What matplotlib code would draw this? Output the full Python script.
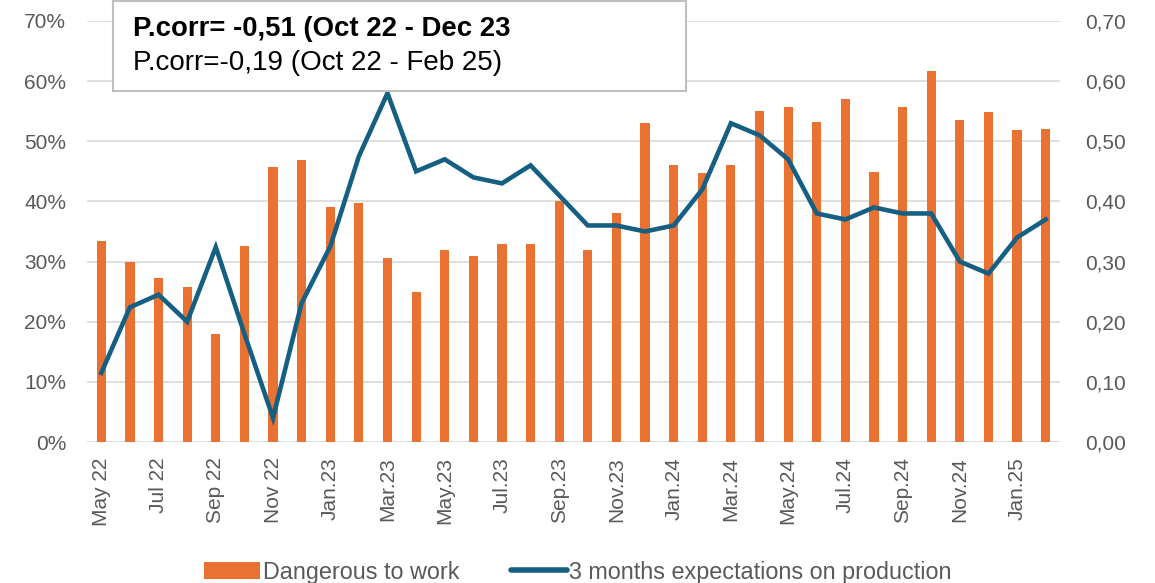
import matplotlib
matplotlib.use("Agg")
import matplotlib.pyplot as plt
from matplotlib.ticker import FuncFormatter, MultipleLocator
from matplotlib.lines import Line2D
from matplotlib.patches import Patch
import numpy as np

months = ["May 22", "Jun 22", "Jul 22", "Aug 22", "Sep 22", "Oct 22", "Nov 22", "Dec 22",
          "Jan.23", "Feb.23", "Mar.23", "Apr.23", "May.23", "Jun.23", "Jul.23", "Aug.23",
          "Sep.23", "Oct.23", "Nov.23", "Dec.23", "Jan.24", "Feb.24", "Mar.24", "Apr.24",
          "May.24", "Jun.24", "Jul.24", "Aug.24", "Sep.24", "Oct.24", "Nov.24", "Dec.24",
          "Jan.25", "Feb.25"]
dangerous = [33.5, 30, 27.3, 25.8, 18, 32.6, 45.8, 46.9, 39.0, 39.8, 30.6, 25, 32, 31,
             33, 33, 40, 32, 38, 53, 46, 44.8, 46, 55, 55.7, 53.2, 57.1, 44.9, 55.7, 61.7,
             53.6, 54.9, 51.9, 52.1]
expectations = [0.115, 0.224, 0.245, 0.20, 0.324, 0.18, 0.04, 0.231, 0.325, 0.475, 0.58,
                0.45, 0.47, 0.44, 0.43, 0.46, 0.41, 0.36, 0.36, 0.35, 0.36, 0.42, 0.53,
                0.51, 0.47, 0.38, 0.37, 0.39, 0.38, 0.38, 0.30, 0.28, 0.34, 0.37]
bar_label = "Dangerous to work"
line_label = "3 months expectations on production"
note_bold = "P.corr= -0,51 (Oct 22 - Dec 23"
note_regular = "P.corr=-0,19 (Oct 22 - Feb 25)"

ORANGE = "#E97132"
BLUE = "#156082"
GRID = "#D9D9D9"
TXT = "#595959"

plt.rcParams['font.family'] = ['Liberation Sans', 'DejaVu Sans']

W, H = 1155, 583
fig = plt.figure(figsize=(W / 100, H / 100), dpi=100)
ax = fig.add_axes([87 / W, 1 - 442 / H, (1060 - 87) / W, (442 - 21) / H])
ax2 = ax.twinx()

x = np.arange(len(months))
ax.bar(x, dangerous, width=0.32, color=ORANGE, zorder=2)
ax.set_ylim(0, 70)
ax.set_xlim(-0.5, len(months) - 0.5)
ax.yaxis.set_major_locator(MultipleLocator(10))
ax.yaxis.set_major_formatter(FuncFormatter(lambda v, p: f"{v:.0f}%"))
ax.grid(axis='y', color=GRID, lw=1.2, zorder=0)
ax.set_axisbelow(True)

ax2.plot(x, expectations, color=BLUE, lw=3.3, zorder=3, solid_joinstyle='miter')
ax2.set_ylim(0, 0.70)
ax2.yaxis.set_major_locator(MultipleLocator(0.10))
ax2.yaxis.set_major_formatter(FuncFormatter(lambda v, p: f"{v:.2f}".replace('.', ',')))

for a in (ax, ax2):
    for s in a.spines.values():
        s.set_visible(False)
    a.tick_params(length=0, colors=TXT, labelsize=15)
ax.tick_params(axis='y', pad=15)
ax2.tick_params(axis='y', pad=18)

ax.set_xticks(x[::2])
ax.set_xticklabels(months[::2], rotation=90, fontsize=15, color=TXT)
ax.tick_params(axis='x', pad=11)

# annotation box
box_ax = fig.add_axes([113 / W, 1 - 91 / H, (686 - 113) / W, 90 / H])
box_ax.set_xticks([]); box_ax.set_yticks([])
box_ax.set_facecolor('white')
for s in box_ax.spines.values():
    s.set_color('#BFBFBF'); s.set_linewidth(1.5)
box_ax.text(20 / 573, 0.69, note_bold, fontsize=19.8, fontweight='bold', color='black',
            va='center', ha='left', transform=box_ax.transAxes)
box_ax.text(20 / 573, 0.31, note_regular, fontsize=20, color='black',
            va='center', ha='left', transform=box_ax.transAxes)

handles = [Patch(facecolor=ORANGE, edgecolor='none'),
           Line2D([0], [0], color=BLUE, lw=4, solid_capstyle='round')]
fig.legend(handles, [bar_label, line_label], loc='center', bbox_to_anchor=(578 / W, 1 - 572 / H),
           ncol=2, frameon=False, fontsize=16.8, labelcolor=TXT, handlelength=2.4,
           handletextpad=0.12, columnspacing=2.2, handleheight=0.75)

fig.savefig("out.png", dpi=100)
